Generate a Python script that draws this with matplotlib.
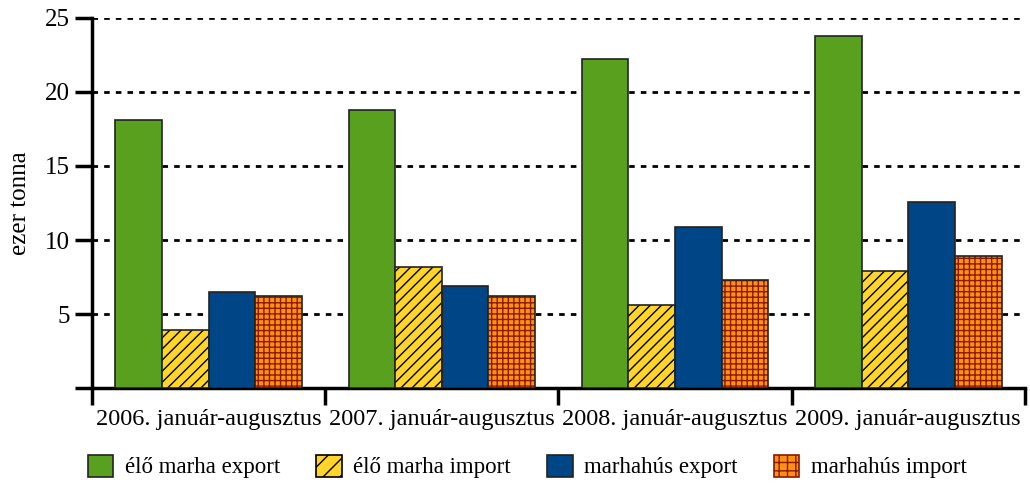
import matplotlib
matplotlib.use("Agg")
import matplotlib.pyplot as plt
import numpy as np
from matplotlib.patches import Patch

categories = ["2006. január-augusztus", "2007. január-augusztus",
              "2008. január-augusztus", "2009. január-augusztus"]
series_names = ["élő marha export", "élő marha import", "marhahús export", "marhahús import"]
elo_export = [18.1, 18.8, 22.2, 23.8]
elo_import = [3.9, 8.2, 5.6, 7.9]
hus_export = [6.5, 6.9, 10.9, 12.6]
hus_import = [6.2, 6.2, 7.3, 8.9]

plt.rcParams['font.family'] = ['Liberation Serif', 'DejaVu Serif']
plt.rcParams['hatch.linewidth'] = 1.0

fig = plt.figure(figsize=(10.3, 4.86), dpi=100)
ax = fig.add_axes([0.0893, 0.2016, 0.9057, 0.7614])

x = np.arange(len(categories))
w = 0.2
styles = [
    dict(color="#58A01E", hatch=None, hcol=None),
    dict(color="#FFD52A", hatch="///", hcol="black"),
    dict(color="#004586", hatch=None, hcol=None),
    dict(color="#FF9012", hatch="+++", hcol="#8B1A00"),
]
data = [elo_export, elo_import, hus_export, hus_import]
handles = []
for i, (vals, st, name) in enumerate(zip(data, styles, series_names)):
    pos = x + (i - 1.5) * w
    if st["hatch"]:
        ax.bar(pos, vals, w, color=st["color"], edgecolor=st["hcol"], hatch=st["hatch"],
               linewidth=0, zorder=3)
        ax.bar(pos, vals, w, fill=False, edgecolor="#222222", linewidth=1.2, zorder=4)
        handles.append(Patch(facecolor=st["color"], edgecolor=st["hcol"],
                             hatch="//" if "/" in st["hatch"] else "++", linewidth=1.2))
    else:
        ax.bar(pos, vals, w, color=st["color"], edgecolor="#222222", linewidth=1.2, zorder=3)
        handles.append(Patch(facecolor=st["color"], edgecolor="#222222", linewidth=1.2))

ax.set_xlim(-0.5, 3.5)
ax.set_ylim(0, 25)
ax.set_yticks([0, 5, 10, 15, 20, 25])
ax.set_yticklabels(["", "5", "10", "15", "20", "25"])
for yv in [5, 10, 15, 20, 25]:
    ax.axhline(yv, color="black", linestyle=(0, (2, 2.2)), linewidth=2, zorder=1)

ax.set_xticks(np.arange(-0.5, 4.0, 1.0), minor=False)
ax.set_xticklabels([])
ax.set_xticks(x, minor=True)
ax.set_xticklabels(categories, minor=True, fontsize=17.5)
ax.tick_params(axis='x', which='minor', length=0, pad=15)
ax.tick_params(axis='x', which='major', length=12, width=2.5, direction='out')
ax.tick_params(axis='y', length=12, width=2.5, direction='out', labelsize=18, pad=4)

for s in ["top", "right"]:
    ax.spines[s].set_visible(False)
ax.spines["left"].set_linewidth(2.5)
ax.spines["bottom"].set_linewidth(2.5)

ax.set_ylabel("ezer tonna", fontsize=18, labelpad=10)

fig.legend(handles, series_names, loc="center", bbox_to_anchor=(0.512, 0.04), ncol=4,
           frameon=False, fontsize=16.5, handlelength=1.1, handleheight=1.1,
           columnspacing=1.6, handletextpad=0.5)

fig.savefig("out.png", dpi=100)
